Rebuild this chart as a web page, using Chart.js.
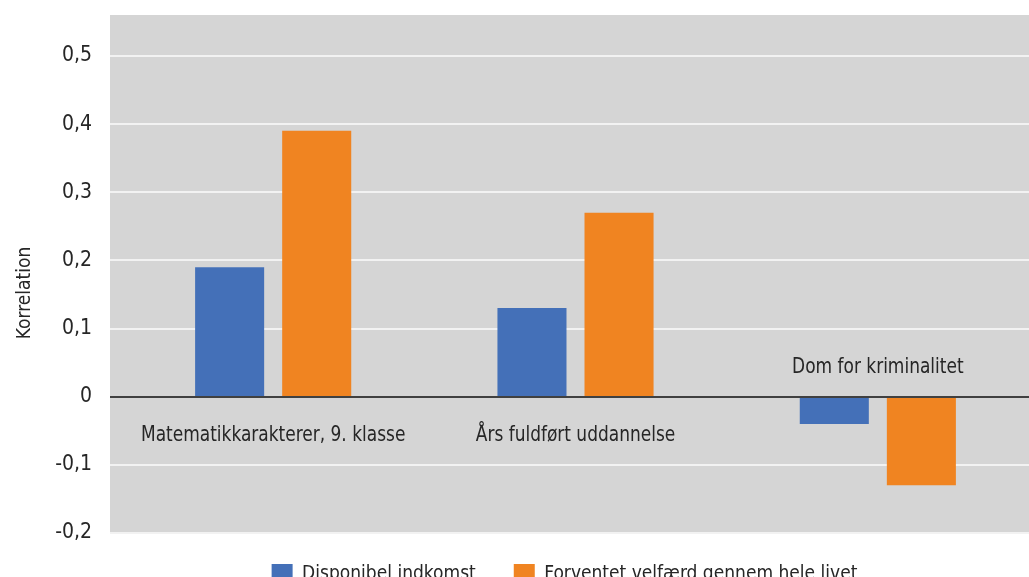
<!DOCTYPE html>
<html>
<head>
<meta charset="utf-8">
<script src="https://cdn.jsdelivr.net/npm/chart.js@4"></script>
<style>
  html, body { margin: 0; padding: 0; background: #fff; overflow: hidden; }
  #wrap { width: 1029px; height: 577px; overflow: hidden; }
</style>
</head>
<body>
<div id="wrap"><canvas id="myChart" width="1029" height="607"></canvas></div>
<script>
const categories = ['Matematikkarakterer, 9. klasse', 'Års fuldført uddannelse', 'Dom for kriminalitet'];
const disponibel = [0.19, 0.13, -0.04];
const velfaerd = [0.39, 0.27, -0.13];
const yTicks = [-0.2, -0.1, 0, 0.1, 0.2, 0.3, 0.4, 0.5];
const yTitle = 'Korrelation';

const FONT = '"Liberation Sans Narrow", "DejaVu Sans Condensed", sans-serif';
const TEXT = '#262626';

function fmt(v) {
    if (Math.abs(v) < 1e-9) return '0';
    return v.toFixed(1).replace('.', ',');
}

// gray plot background, white grid lines, dark zero line, category labels, axis title
const plotDecor = {
    id: 'plotDecor',
    beforeDraw(chart) {
        const { ctx, chartArea, scales } = chart;
        const left = chartArea.left - 12;
        ctx.save();
        ctx.fillStyle = '#d5d5d5';
        ctx.fillRect(left, chartArea.top, chart.width - left, chartArea.bottom - chartArea.top);
        ctx.strokeStyle = '#f2f2f2';
        ctx.lineWidth = 2;
        yTicks.forEach(v => {
            if (v === 0) return;
            const y = Math.round(scales.y.getPixelForValue(v));
            ctx.beginPath();
            ctx.moveTo(left, y);
            ctx.lineTo(chart.width, y);
            ctx.stroke();
        });

        // y title, sits a bit below the middle of the plot in the original
        ctx.fillStyle = TEXT;
        ctx.font = '19px ' + FONT;
        ctx.textAlign = 'center';
        ctx.textBaseline = 'middle';
        ctx.translate(chartArea.left - 97, (chartArea.top + chartArea.bottom) / 2 + 19);
        ctx.rotate(-Math.PI / 2);
        ctx.fillText(yTitle, 0, 0);
        ctx.restore();
    },
    afterDatasetsDraw(chart) {
        const { ctx, chartArea, scales } = chart;
        const left = chartArea.left - 12;
        const y0 = Math.round(scales.y.getPixelForValue(0));
        ctx.save();
        ctx.strokeStyle = '#404040';
        ctx.lineWidth = 2;
        ctx.beginPath();
        ctx.moveTo(left, y0);
        ctx.lineTo(chart.width, y0);
        ctx.stroke();

        ctx.fillStyle = TEXT;
        ctx.font = '21px ' + FONT;
        ctx.textAlign = 'center';
        ctx.textBaseline = 'middle';
        categories.forEach((c, i) => {
            const x = scales.x.getPixelForValue(i);
            const neg = disponibel[i] < 0 && velfaerd[i] < 0;
            const y = neg ? y0 - 29 : y0 + 39;
            // the original font is narrower, squeeze it a bit
            ctx.save();
            ctx.translate(x, y);
            ctx.scale(0.9, 1);
            ctx.fillText(c, 0, 0);
            ctx.restore();
        });
        ctx.restore();
    },
    afterLayout(chart) {
        // legend sits right of the page centre and a little higher
        if (chart.legend) {
            chart.legend.left += 50;
            chart.legend.right += 50;
            chart.legend.top -= 7;
            chart.legend.bottom -= 7;
        }
    }
};

const ctx = document.getElementById('myChart').getContext('2d');
const myChart = new Chart(ctx, {
    type: 'bar',
    data: {
        labels: categories,
        datasets: [{
            label: 'Disponibel indkomst',
            data: disponibel,
            backgroundColor: '#4470b8',
            borderWidth: 0
        }, {
            label: 'Forventet velfærd gennem hele livet',
            data: velfaerd,
            backgroundColor: '#f08421',
            borderWidth: 0
        }]
    },
    options: {
        responsive: false,
        animation: false,
        devicePixelRatio: 1,
        categoryPercentage: 0.576,
        barPercentage: 0.793,
        layout: { padding: { top: 15, right: 0, bottom: 5, left: 0 } },
        plugins: {
            tooltip: { enabled: false },
            legend: {
                position: 'bottom',
                labels: {
                    boxWidth: 21,
                    boxHeight: 21,
                    padding: 38,
                    color: TEXT,
                    font: { family: FONT, size: 19 }
                }
            }
        },
        scales: {
            x: {
                display: false
            },
            y: {
                min: -0.2,
                max: 0.56,
                grid: { display: false },
                border: { display: false },
                afterBuildTicks: scale => {
                    scale.ticks = yTicks.map(v => ({ value: v }));
                },
                afterFit: scale => {
                    scale.width = 122;
                    scale.paddingTop = 0;
                    scale.paddingBottom = 0;
                },
                ticks: {
                    padding: 22,
                    color: TEXT,
                    font: { family: FONT, size: 21 },
                    callback: v => fmt(v)
                }
            }
        }
    },
    plugins: [plotDecor]
});
</script>
</body>
</html>
